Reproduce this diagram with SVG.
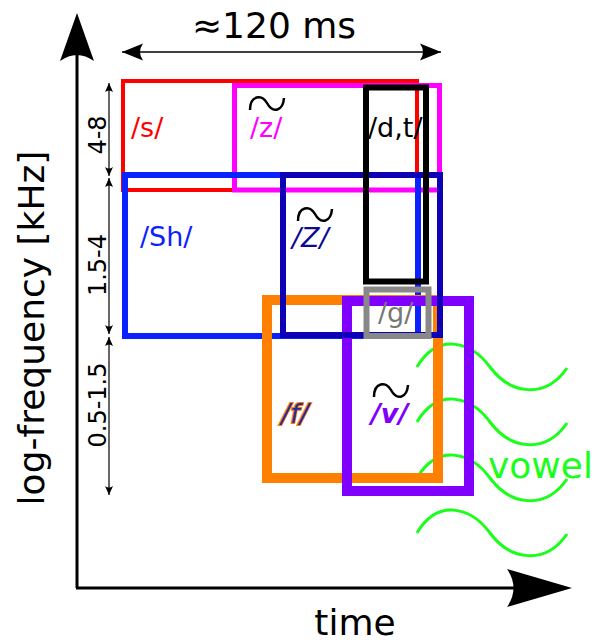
<svg xmlns="http://www.w3.org/2000/svg" width="596" height="643" viewBox="0 0 596 643">
<style>
text{font-family:"DejaVu Sans","Liberation Sans",sans-serif}
.big{font-size:36px;fill:#000}
.lab{font-size:27px}
.tick{font-size:24px;fill:#000}
.box{fill:none}
.wave{fill:none;stroke:#1aff1a;stroke-width:3}
.tl{fill:none;stroke:#000;stroke-width:2.5}
</style>
<defs>
<marker id="sm" markerUnits="userSpaceOnUse" viewBox="-10 -5 11 10" refX="0" refY="0" markerWidth="11" markerHeight="10" orient="auto-start-reverse">
<path d="M0,0 L-9,-4 Q-6,0 -9,4 Z" fill="#000"/>
</marker>
<marker id="md" markerUnits="userSpaceOnUse" viewBox="-22 -9 23 18" refX="0" refY="0" markerWidth="23" markerHeight="18" orient="auto-start-reverse">
<path d="M0,0 L-21,-8.5 Q-15,0 -21,8.5 Z" fill="#000"/>
</marker>
<path id="tilde" d="M0,13 C0,-2 12,-3 17,6 C23,17 33,14 34,1"/>
</defs>

<g id="waves">
<path class="wave" d="M417,367 C437,333 470,340 490,367 C510,394 545,400 567,368"/>
<path class="wave" d="M417,422 C437,388 470,395 490,422 C510,449 545,455 567,423"/>
<path class="wave" d="M417,478 C437,444 470,451 490,478 C510,505 545,511 567,479"/>
<path class="wave" d="M417,533 C437,499 470,506 490,533 C510,560 545,566 567,534"/>
</g>

<g id="node-s"><rect class="box" x="123" y="81" width="294" height="109" stroke="#ff0000" stroke-width="4"/></g>
<g id="node-z"><rect class="box" x="234.5" y="85.5" width="205" height="104.5" stroke="#ff00ff" stroke-width="5"/></g>
<g id="node-Sh"><rect class="box" x="125" y="175" width="293" height="161" stroke="#0a22ff" stroke-width="6"/></g>
<g id="node-f"><rect class="box" x="267" y="300" width="171" height="178" stroke="#ff7f00" stroke-width="10"/></g>
<g id="node-v"><rect class="box" x="347" y="301" width="122" height="190" stroke="#8000ff" stroke-width="10"/></g>
<g id="node-Z"><rect class="box" x="283" y="175" width="157" height="160" stroke="#0d00b5" stroke-width="6"/></g>
<g id="node-dt"><rect class="box" x="366" y="87.5" width="60" height="194" stroke="#000" stroke-width="6"/></g>
<g id="node-g"><rect class="box" x="366.5" y="289.5" width="62" height="46.5" stroke="#888888" stroke-width="6"/></g>

<g id="labels">
<text class="lab" x="131" y="137" fill="#ff0000">/s/</text>
<text class="lab" x="250" y="137" fill="#ff00ff">/z/</text>
<use href="#tilde" class="tl" transform="translate(250,97)"/>
<text class="lab" x="368" y="137" fill="#000">/d,t/</text>
<text class="lab" x="140" y="246" fill="#0a22ff">/Sh/</text>
<text class="lab" x="292" y="247" fill="#0b0a90" font-style="italic">/Z/</text>
<use href="#tilde" class="tl" transform="translate(298,208)"/>
<text class="lab" x="378" y="322" fill="#777777">/g/</text>
<text class="lab" x="281" y="423" fill="#2a2aa0" stroke="#ff7f00" stroke-width="2" paint-order="stroke" font-style="italic">/f/</text>
<text class="lab" x="371" y="423" fill="#8000ff" font-weight="bold" font-style="italic">/v/</text>
<use href="#tilde" class="tl" transform="translate(374,384)"/>
<text x="488" y="478" font-size="36" fill="#1aff1a">vowel</text>
</g>

<g id="connectors">
<line x1="77" y1="588" x2="77" y2="40" stroke="#000" stroke-width="3"/>
<path d="M77,13 L94,61 Q77,49 60,61 Z" fill="#000"/>
<line x1="76" y1="588" x2="540" y2="588" stroke="#000" stroke-width="3"/>
<path d="M572,588 L507,569 Q520,588 507,607 Z" fill="#000"/>
<line x1="122" y1="52" x2="441" y2="52" stroke="#000" stroke-width="1.5" marker-start="url(#md)" marker-end="url(#md)"/>
<line x1="109" y1="83" x2="109" y2="176" stroke="#000" stroke-width="1.2" marker-start="url(#sm)" marker-end="url(#sm)"/>
<line x1="109" y1="178" x2="109" y2="334" stroke="#000" stroke-width="1.2" marker-start="url(#sm)" marker-end="url(#sm)"/>
<line x1="109" y1="337" x2="109" y2="495" stroke="#000" stroke-width="1.2" marker-start="url(#sm)" marker-end="url(#sm)"/>
</g>

<g id="axis-labels">
<text class="big" x="274" y="38" text-anchor="middle">≈120 ms</text>
<text class="big" x="355" y="635" text-anchor="middle" font-size="35">time</text>
<text class="big" transform="translate(44,328) rotate(-90)" text-anchor="middle">log-frequency [kHz]</text>
<text class="tick" transform="translate(106,135) rotate(-90)" text-anchor="middle">4-8</text>
<text class="tick" transform="translate(106,265) rotate(-90)" text-anchor="middle">1.5-4</text>
<text class="tick" transform="translate(106,405) rotate(-90)" text-anchor="middle">0.5-1.5</text>
</g>
</svg>
